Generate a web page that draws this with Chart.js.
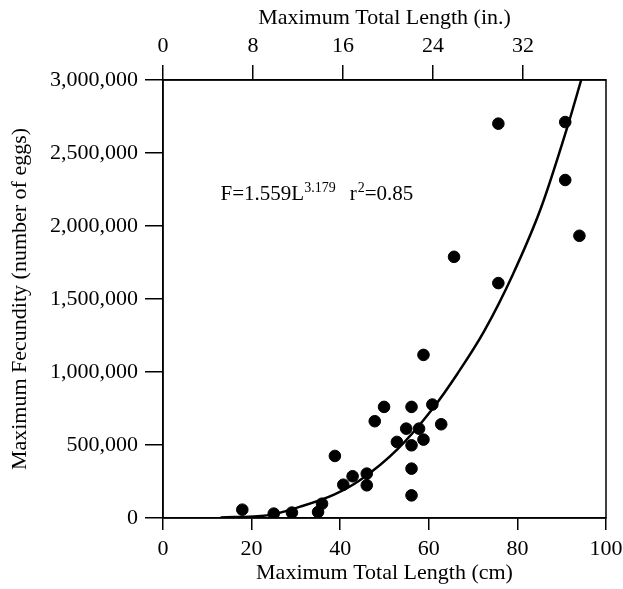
<!DOCTYPE html>
<html>
<head>
<meta charset="utf-8">
<script src="https://cdn.jsdelivr.net/npm/chart.js@4/dist/chart.umd.min.js"></script>
<style>
  html, body { margin: 0; padding: 0; background: #fff; }
  #wrap { width: 623px; height: 589px; position: relative; }
</style>
</head>
<body>
<div id="wrap"><canvas id="c" width="623" height="589"></canvas></div>
<script>
// Observed data: maximum total length (cm) vs maximum fecundity (eggs)
const lengthCm = [17.9, 25.0, 29.1, 35.0, 35.9, 38.8, 40.7, 42.8, 46.0, 46.0,
                  47.8, 49.9, 52.8, 54.9, 56.1, 56.1, 56.1, 56.1, 57.8, 58.8,
                  58.8, 60.8, 62.8, 65.7, 75.7, 75.7, 90.8, 90.8, 94.0];
const fecundity = [57000, 30000, 37000, 41000, 98000, 425000, 228000, 286000, 224000, 304000,
                   663000, 761000, 521000, 612000, 761000, 498000, 338000, 155000, 612000, 537000,
                   1117000, 777000, 642000, 1789000, 2701000, 1609000, 2712000, 2315000, 1933000];

// Fitted curve at selected lengths
const curveCm = [13, 23.5, 31, 38.6, 44.6, 52.9, 60.9, 66.5, 72.5, 79, 85.4, 91.4, 94.4];
const curveF  = [4000, 18000, 78000, 160000, 262000, 470000, 750000, 990000, 1280000, 1670000, 2130000, 2690000, 3000000];

// Tick labels
const cmTicks = [0, 20, 40, 60, 80, 100];
const inchTicks = [0, 8, 16, 24, 32];
const fecTicks = [0, 500000, 1000000, 1500000, 2000000, 2500000, 3000000];

const eqText = { main: 'F=1.559L', sup: '3.179', r: 'r', rsup: '2', rEnd: '=0.85' };
const eqPos = { x: 13, y: 2180000 };

const FONT = "'Liberation Serif', 'Times New Roman', serif";
const INK = '#000';

const scatterPts = lengthCm.map((x, i) => ({ x: x, y: fecundity[i] }));
const curvePts = curveCm.map((x, i) => ({ x: x, y: curveF[i] }));

const framePlugin = {
  id: 'frame',
  afterDraw(chart) {
    const { ctx, chartArea: a } = chart;
    ctx.save();
    ctx.strokeStyle = INK;
    ctx.lineWidth = 1.5;
    ctx.strokeRect(a.left, a.top, a.right - a.left, a.bottom - a.top);
    ctx.restore();
  }
};

const eqPlugin = {
  id: 'eq',
  afterDatasetsDraw(chart) {
    const { ctx, scales } = chart;
    let x = scales.x.getPixelForValue(eqPos.x);
    const y = scales.y.getPixelForValue(eqPos.y);
    ctx.save();
    ctx.fillStyle = INK;
    ctx.textBaseline = 'alphabetic';
    const big = "21px " + FONT, small = "14px " + FONT;
    ctx.font = big; ctx.fillText(eqText.main, x, y); x += ctx.measureText(eqText.main).width;
    ctx.font = small; ctx.fillText(eqText.sup, x, y - 8); x += ctx.measureText(eqText.sup).width + 14;
    ctx.font = big; ctx.fillText(eqText.r, x, y); x += ctx.measureText(eqText.r).width + 1;
    ctx.font = small; ctx.fillText(eqText.rsup, x, y - 8); x += ctx.measureText(eqText.rsup).width;
    ctx.font = big; ctx.fillText(eqText.rEnd, x, y);
    ctx.restore();
  }
};

new Chart(document.getElementById('c'), {
  type: 'scatter',
  data: {
    datasets: [
      {
        type: 'line',
        data: curvePts,
        borderColor: INK,
        borderWidth: 2.5,
        pointRadius: 0,
        fill: false,
        cubicInterpolationMode: 'monotone',
        xAxisID: 'x', yAxisID: 'y'
      },
      {
        data: scatterPts,
        backgroundColor: INK,
        borderColor: INK,
        pointRadius: 5.8,
        pointHoverRadius: 5.8,
        xAxisID: 'x', yAxisID: 'y'
      }
    ]
  },
  options: {
    responsive: false,
    animation: false,
    events: [],
    plugins: { legend: { display: false }, tooltip: { enabled: false } },
    layout: { padding: { left: 0, right: 17, top: 0, bottom: 0 } },
    scales: {
      x: {
        type: 'linear', position: 'bottom', min: 0, max: 100,
        afterBuildTicks: s => { s.ticks = cmTicks.map(v => ({ value: v })); },
        afterFit: s => { s.height = 71; s.paddingRight = 0; s.paddingLeft = 0; },
        grid: { drawOnChartArea: false, drawTicks: true, tickLength: 12, color: INK, lineWidth: 1.5 },
        border: { color: INK, width: 1.5 },
        ticks: { color: INK, padding: 6, font: { family: FONT, size: 22 }, maxRotation: 0 },
        title: { display: true, text: 'Maximum Total Length (cm)', color: INK,
                 font: { family: FONT, size: 22 }, padding: { top: 0, bottom: 3 } }
      },
      x2: {
        type: 'linear', position: 'top', min: 0, max: 100 / 2.54,
        afterBuildTicks: s => { s.ticks = inchTicks.map(v => ({ value: v })); },
        afterFit: s => { s.height = 80; s.paddingRight = 0; s.paddingLeft = 0; },
        grid: { drawOnChartArea: false, drawTicks: true, tickLength: 15, color: INK, lineWidth: 1.5 },
        border: { color: INK, width: 1.5 },
        ticks: { color: INK, padding: 6, font: { family: FONT, size: 22 }, maxRotation: 0 },
        title: { display: true, text: 'Maximum Total Length (in.)', color: INK,
                 font: { family: FONT, size: 22 }, padding: { top: 5, bottom: 0 } }
      },
      y: {
        type: 'linear', position: 'left', min: 0, max: 3000000,
        afterBuildTicks: s => { s.ticks = fecTicks.map(v => ({ value: v })); },
        afterFit: s => { s.width = 163; s.paddingTop = 0; s.paddingBottom = 0; },
        grid: { drawOnChartArea: false, drawTicks: true, tickLength: 18, color: INK, lineWidth: 1.5 },
        border: { color: INK, width: 1.5 },
        ticks: { color: INK, padding: 7, font: { family: FONT, size: 22 },
                 callback: v => v.toLocaleString('en-US') },
        title: { display: true, text: 'Maximum Fecundity (number of eggs)', color: INK,
                 font: { family: FONT, size: 22 }, padding: { top: 7, bottom: 0 } }
      }
    }
  },
  plugins: [framePlugin, eqPlugin]
});
</script>
</body>
</html>
